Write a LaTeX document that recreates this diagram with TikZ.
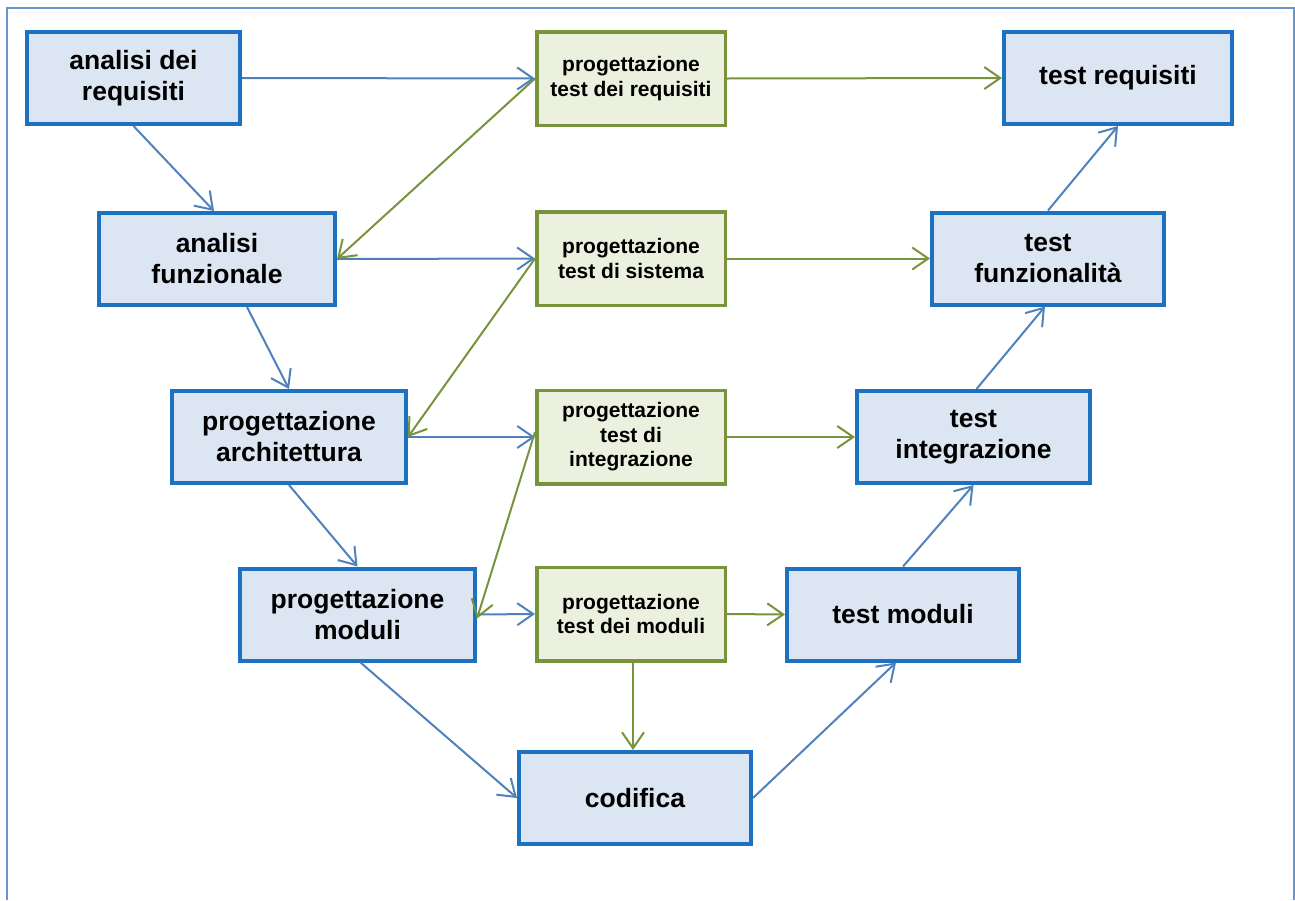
\documentclass[tikz,border=0pt]{standalone}
\usepackage{fontspec}
\setmainfont{Liberation Sans}
\usetikzlibrary{arrows.meta}
\definecolor{bbord}{RGB}{28,114,192}
\definecolor{bfill}{RGB}{220,230,242}
\definecolor{gbord}{RGB}{119,147,60}
\definecolor{gfill}{RGB}{235,241,222}
\definecolor{barrowc}{RGB}{79,129,189}
\definecolor{garrowc}{RGB}{119,147,60}
\definecolor{framec}{RGB}{105,148,204}
\begin{document}
\begin{tikzpicture}[x=1pt,y=-1pt,
  bluebox/.style={draw=bbord, fill=bfill, line width=4pt, minimum width=#1,
    minimum height=92pt, inner sep=0pt, align=center,
    font=\bfseries\fontsize{26.5}{31}\selectfont},
  bluebox/.default=233pt,
  greenbox/.style={draw=gbord, fill=gfill, line width=3.5pt, minimum width=188.5pt,
    minimum height=93.5pt, inner sep=0pt, align=center,
    font=\bfseries\fontsize{21}{24.5}\selectfont},
  barrow/.style={draw=barrowc, line width=2pt, -{Straight Barb[length=16pt,width=22pt]}},
  garrow/.style={draw=garrowc, line width=2pt, -{Straight Barb[length=16pt,width=22pt]}}]
\useasboundingbox (0,0) rectangle (1295,900);
\draw[framec, line width=2pt] (7,900) -- (7,8) -- (1294,8) -- (1294,900);

% left branch
\node[bluebox=213pt] (A1) at (133.5,78) {analisi dei\\requisiti};
\node[bluebox=236pt] (A2) at (217,259) {analisi\\funzionale};
\node[bluebox=234pt] (A3) at (289,437) {progettazione\\architettura};
\node[bluebox=235pt] (A4) at (357.5,614.5) {progettazione\\moduli};
\node[bluebox=232pt] (C) at (635,798) {codifica};
% middle
\node[greenbox] (G1) at (631,78.5) {progettazione\\test dei requisiti};
\node[greenbox] (G2) at (631,258.5) {progettazione\\test di sistema};
\node[greenbox] (G3) at (631,437) {progettazione\\test di\\integrazione};
\node[greenbox] (G4) at (631,614) {progettazione\\test dei moduli};
% right branch
\node[bluebox=228pt] (T1) at (1118,78) {test requisiti};
\node[bluebox=232pt] (T2) at (1048,258.5) {test\\funzionalità};
\node[bluebox=233pt] (T3) at (973.5,437) {test\\integrazione};
\node[bluebox=232pt] (T4) at (903,614.5) {test moduli};

% blue connectors
\draw[barrow] (A1.east) -- (G1.west);
\draw[barrow] (A2.east) -- (G2.west);
\draw[barrow] (A3.east) -- (G3.west);
\draw[barrow] (A4.east) -- (G4.west);
\draw[barrow] (A1.south) -- ([xshift=-3pt]A2.north);
\draw[barrow] ([xshift=30pt]A2.south) -- (A3.north);
\draw[barrow] (A3.south) -- (A4.north);
\draw[barrow] ([xshift=3pt]A4.south) -- (C.west);
\draw[barrow] (C.east) -- ([xshift=-7pt]T4.south);
\draw[barrow] (T4.north) -- (T3.south);
\draw[barrow] ([xshift=3pt]T3.north) -- ([xshift=-3pt]T2.south);
\draw[barrow] (T2.north) -- (T1.south);

% green connectors
\draw[garrow] (G1.east) -- (T1.west);
\draw[garrow] (G2.east) -- (T2.west);
\draw[garrow] (G3.east) -- (T3.west);
\draw[garrow] (G4.east) -- (T4.west);
\draw[garrow] (G1.west) -- (A2.east);
\draw[garrow] (G2.west) -- (A3.east);
\draw[garrow] ([yshift=5pt]G3.west) -- ([yshift=-4pt]A4.east);
\draw[garrow] ([xshift=2pt]G4.south) -- ([xshift=2pt]G4.south |- C.north);
\end{tikzpicture}
\end{document}
